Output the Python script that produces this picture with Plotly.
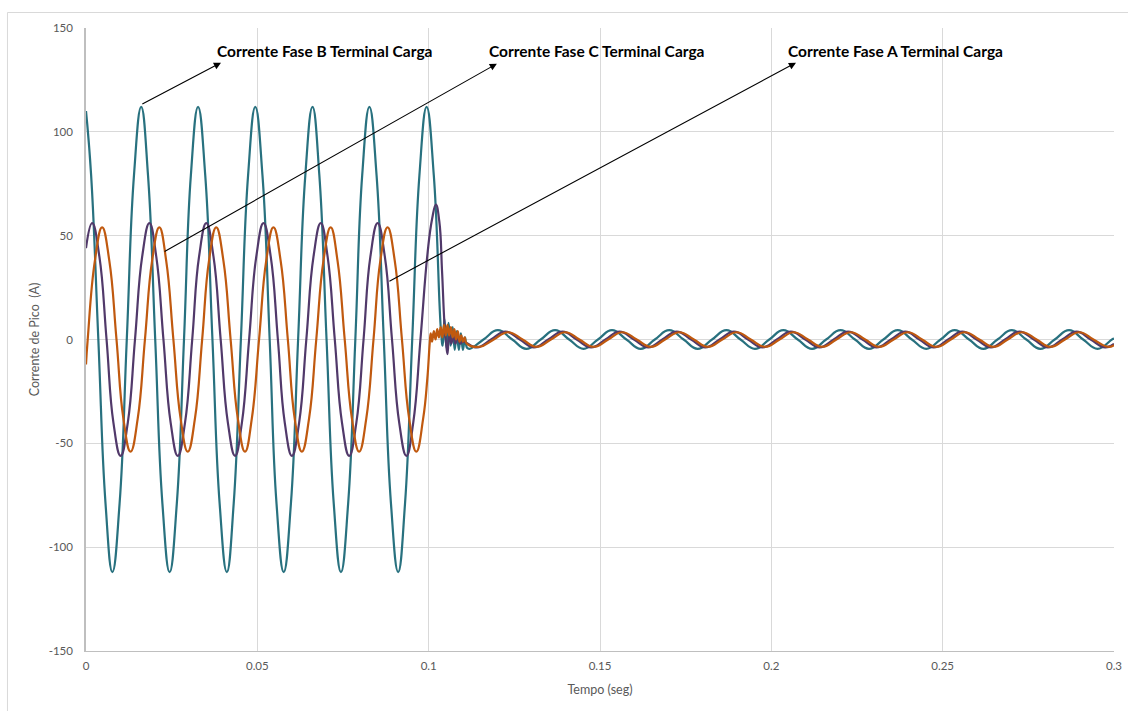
import plotly.graph_objects as go

# ---------------- data ----------------
# Fase B (teal)
t_fase_b = [0, 0.0015, 0.0036, 0.0057, 0.0077, 0.0098, 0.0119, 0.0140, 0.0161,
            0.0181, 0.0202, 0.0223, 0.0244, 0.0265, 0.0286, 0.0306, 0.0327,
            0.0348, 0.0369, 0.0390, 0.0411, 0.0431, 0.0452, 0.0473, 0.0494,
            0.0515, 0.0536, 0.0556, 0.0577, 0.0598, 0.0619, 0.0640, 0.0661,
            0.0681, 0.0702, 0.0723, 0.0744, 0.0765, 0.0786, 0.0806, 0.0827,
            0.0848, 0.0869, 0.0890, 0.0911, 0.0931, 0.0952, 0.0973, 0.0994,
            0.1015, 0.1036,
            0.1041, 0.1046, 0.1052, 0.1058, 0.1064, 0.1070, 0.1076, 0.1082,
            0.1088, 0.1094, 0.1100, 0.1106, 0.1112, 0.1119, 0.1160,
            0.1202, 0.1244, 0.1285, 0.1327, 0.1369, 0.1410, 0.1452, 0.1494,
            0.1535, 0.1577, 0.1619, 0.1660, 0.1702, 0.1744, 0.1785, 0.1827,
            0.1869, 0.1910, 0.1952, 0.1994, 0.2035, 0.2077, 0.2119, 0.2160,
            0.2202, 0.2244, 0.2285, 0.2327, 0.2369, 0.2410, 0.2452, 0.2494,
            0.2535, 0.2577, 0.2619, 0.2660, 0.2702, 0.2744, 0.2785, 0.2827,
            0.2869, 0.2910, 0.2952, 0.2994, 0.3000]
i_fase_b = [110, 79, 0, -79, -112, -79, 0, 79, 112,
            79, 0, -79, -112, -79, 0, 79, 112,
            79, 0, -79, -112, -79, 0, 79, 112,
            79, 0, -79, -112, -79, 0, 79, 112,
            79, 0, -79, -112, -79, 0, 79, 112,
            79, 0, -79, -112, -79, 0, 79, 112,
            79, 4,
            -3, 10, -4, 8, -3, 6, -5, 4,
            -5, 3, -5, 1, -4, -4.5, 0,
            4.5, 0, -4.5, 0, 4.5, 0, -4.5, 0,
            4.5, 0, -4.5, 0, 4.5, 0, -4.5, 0,
            4.5, 0, -4.5, 0, 4.5, 0, -4.5, 0,
            4.5, 0, -4.5, 0, 4.5, 0, -4.5, 0,
            4.5, 0, -4.5, 0, 4.5, 0, -4.5, 0,
            4.5, 0, -4.5, 0, 0.4]

# Fase A (purple)
t_fase_a = [0, 0.0018, 0.0039, 0.0060, 0.0080, 0.0101, 0.0122, 0.0143, 0.0164,
            0.0185, 0.0205, 0.0226, 0.0247, 0.0268, 0.0289, 0.0310, 0.0330,
            0.0351, 0.0372, 0.0393, 0.0414, 0.0435, 0.0455, 0.0476, 0.0497,
            0.0518, 0.0539, 0.0560, 0.0580, 0.0601, 0.0622, 0.0643, 0.0664,
            0.0685, 0.0705, 0.0726, 0.0747, 0.0768, 0.0789, 0.0810, 0.0830,
            0.0851, 0.0872, 0.0893, 0.0914, 0.0935, 0.0955, 0.0976, 0.0997,
            0.1010, 0.1021, 0.1031, 0.1039, 0.1046, 0.1051, 0.1055, 0.1060,
            0.1066, 0.1072, 0.1078, 0.1084, 0.1092, 0.1100, 0.1141, 0.1182,
            0.1224, 0.1266, 0.1307, 0.1349, 0.1391, 0.1432, 0.1474, 0.1516,
            0.1557, 0.1599, 0.1641, 0.1682, 0.1724, 0.1766, 0.1807, 0.1849,
            0.1891, 0.1932, 0.1974, 0.2016, 0.2057, 0.2099, 0.2141, 0.2182,
            0.2224, 0.2266, 0.2307, 0.2349, 0.2391, 0.2432, 0.2474, 0.2516,
            0.2557, 0.2599, 0.2641, 0.2682, 0.2724, 0.2766, 0.2807, 0.2849,
            0.2891, 0.2932, 0.2974, 0.3000]
i_fase_a = [44, 56, 40, 0, -40, -56, -40, 0, 40,
            56, 40, 0, -40, -56, -40, 0, 40,
            56, 40, 0, -40, -56, -40, 0, 40,
            56, 40, 0, -40, -56, -40, 0, 40,
            56, 40, 0, -40, -56, -40, 0, 40,
            56, 40, 0, -40, -56, -40, 0, 42,
            58, 65, 57, 33, 8, -2, -7, 3,
            -2, 2, -2, 1, -2, -1, -3.8, 0,
            3.8, 0, -3.8, 0, 3.8, 0, -3.8, 0,
            3.8, 0, -3.8, 0, 3.8, 0, -3.8, 0,
            3.8, 0, -3.8, 0, 3.8, 0, -3.8, 0,
            3.8, 0, -3.8, 0, 3.8, 0, -3.8, 0,
            3.8, 0, -3.8, 0, 3.8, 0, -3.8, 0,
            3.8, 0, -3.8, -2.1]

# Fase C (orange)
t_fase_c = [0, 0.0005, 0.0026, 0.0047, 0.0068, 0.0089, 0.0109, 0.0130, 0.0151,
            0.0172, 0.0193, 0.0214, 0.0234, 0.0255, 0.0276, 0.0297, 0.0318,
            0.0339, 0.0359, 0.0380, 0.0401, 0.0422, 0.0443, 0.0464, 0.0484,
            0.0505, 0.0526, 0.0547, 0.0568, 0.0589, 0.0609, 0.0630, 0.0651,
            0.0672, 0.0693, 0.0714, 0.0734, 0.0755, 0.0776, 0.0797, 0.0818,
            0.0839, 0.0859, 0.0880, 0.0901, 0.0922, 0.0943, 0.0964, 0.0984,
            0.0996, 0.1003,
            0.1006, 0.1010, 0.1015, 0.1020, 0.1025, 0.1030, 0.1035, 0.1040,
            0.1045, 0.1050, 0.1055, 0.1060, 0.1065, 0.1070, 0.1075, 0.1080,
            0.1085, 0.1090, 0.1095, 0.1100, 0.1105, 0.1111, 0.1149, 0.1190,
            0.1232, 0.1274, 0.1315, 0.1357, 0.1399, 0.1440, 0.1482, 0.1524,
            0.1565, 0.1607, 0.1649, 0.1690, 0.1732, 0.1774, 0.1815, 0.1857,
            0.1899, 0.1940, 0.1982, 0.2024, 0.2065, 0.2107, 0.2149, 0.2190,
            0.2232, 0.2274, 0.2315, 0.2357, 0.2399, 0.2440, 0.2482, 0.2524,
            0.2565, 0.2607, 0.2649, 0.2690, 0.2732, 0.2774, 0.2815, 0.2857,
            0.2899, 0.2940, 0.2982, 0.3000]
i_fase_c = [-12, 0, 38, 54, 38, 0, -38, -54, -38,
            0, 38, 54, 38, 0, -38, -54, -38,
            0, 38, 54, 38, 0, -38, -54, -38,
            0, 38, 54, 38, 0, -38, -54, -38,
            0, 38, 54, 38, 0, -38, -54, -38,
            0, 38, 54, 38, 0, -38, -54, -38,
            -19, -2,
            3, -1, 4, 0, 5, 1, 6, 1,
            7, 2, 7, 2, 6, 1, 5, 0,
            4, -1, 2, -1, 1, -2, -3.5, 0,
            3.5, 0, -3.5, 0, 3.5, 0, -3.5, 0,
            3.5, 0, -3.5, 0, 3.5, 0, -3.5, 0,
            3.5, 0, -3.5, 0, 3.5, 0, -3.5, 0,
            3.5, 0, -3.5, 0, 3.5, 0, -3.5, 0,
            3.5, 0, -3.5, 0, 3.5, 0, -3.5, 0,
            3.5, 0, -3.5, -2.7]

x_ticks = [0, 0.05, 0.1, 0.15, 0.2, 0.25, 0.3]
x_tick_labels = ["0", "0.05", "0.1", "0.15", "0.2", "0.25", "0.3"]
y_ticks = [-150, -100, -50, 0, 50, 100, 150]
y_tick_labels = ["-150", "-100", "-50", "0", "50", "100", "150"]

labels = ["Corrente Fase B Terminal Carga",
          "Corrente Fase C Terminal Carga",
          "Corrente Fase A Terminal Carga"]
label_x = [0.0376, 0.1170, 0.2043]
label_y = [139, 139, 139]
arrow_tail_x = [0.0160, 0.0225, 0.0881]
arrow_tail_y = [113, 42, 27.7]
arrow_head_x = [0.0394, 0.1199, 0.2072]
arrow_head_y = [133.3, 132.8, 133.3]

# ---------------- figure ----------------
TEAL = "#28717F"
PURPLE = "#51396A"
ORANGE = "#C0590F"

fig = go.Figure()
fig.add_trace(go.Scatter(x=t_fase_b, y=i_fase_b, mode="lines",
                         line=dict(color=TEAL, width=2.2, shape="spline", smoothing=1.3),
                         name="Fase B", hoverinfo="x+y"))
fig.add_trace(go.Scatter(x=t_fase_a, y=i_fase_a, mode="lines",
                         line=dict(color=PURPLE, width=2.2, shape="spline", smoothing=1.3),
                         name="Fase A", hoverinfo="x+y"))
fig.add_trace(go.Scatter(x=t_fase_c, y=i_fase_c, mode="lines",
                         line=dict(color=ORANGE, width=2.2, shape="spline", smoothing=1.3),
                         name="Fase C", hoverinfo="x+y"))

annotations = []
for txt, lx, ly in zip(labels, label_x, label_y):
    annotations.append(dict(x=lx, y=ly, xref="x", yref="y", text="<b>" + txt + "</b>",
                            showarrow=False, xanchor="left", yanchor="middle",
                            font=dict(family="Lato, Noto Sans, sans-serif", size=15.5, color="#000000")))
for tx, ty, hx, hy in zip(arrow_tail_x, arrow_tail_y, arrow_head_x, arrow_head_y):
    annotations.append(dict(x=hx, y=hy, xref="x", yref="y", ax=tx, ay=ty,
                            axref="x", ayref="y", text="", showarrow=True,
                            arrowhead=2, arrowsize=1.3, arrowwidth=1.1,
                            arrowcolor="#000000", standoff=0, startstandoff=0))

fig.update_layout(
    width=1128, height=711, autosize=False,
    margin=dict(l=86, r=14, t=28, b=60),
    paper_bgcolor="white", plot_bgcolor="white",
    showlegend=False,
    font=dict(family="Lato, Noto Sans, sans-serif", size=11, color="#595959"),
    annotations=annotations,
    shapes=[dict(type="rect", xref="paper", yref="paper",
                 x0=-0.0764, x1=1.05, y0=-0.2, y1=1.0249,
                 line=dict(color="#D9D9D9", width=1), fillcolor="rgba(0,0,0,0)",
                 layer="below")],
)
fig.update_xaxes(range=[0, 0.3], tickvals=x_ticks, ticktext=x_tick_labels,
                 automargin=False, ticklabelstandoff=4,
                 showgrid=True, gridcolor="#D9D9D9", gridwidth=1,
                 zeroline=False, showline=True, linecolor="#BFBFBF", linewidth=1,
                 ticks="", tickfont=dict(size=11.5, color="#595959"),
                 title=dict(text="Tempo (seg)", font=dict(size=12.5, color="#595959"), standoff=14))
fig.update_yaxes(range=[-150, 150], tickvals=y_ticks, ticktext=y_tick_labels,
                 automargin=False, ticklabelstandoff=9,
                 showgrid=True, gridcolor="#D9D9D9", gridwidth=1,
                 zeroline=True, zerolinecolor="#D9D9D9", zerolinewidth=1,
                 showline=True, linecolor="#BFBFBF", linewidth=1.5,
                 ticks="", tickfont=dict(size=11.5, color="#595959"),
                 title=dict(text="Corrente de Pico  (A)", font=dict(size=12.5, color="#595959"), standoff=6))

post_js = ("document.body.style.margin='0';document.body.style.overflow='hidden';"
           "var gd=document.getElementById('{plot_id}');"
           "Plotly.relayout(gd,{width:1128,height:711});")
fig.write_html("out.html", config={"responsive": False, "displayModeBar": False},
               post_script=post_js)
